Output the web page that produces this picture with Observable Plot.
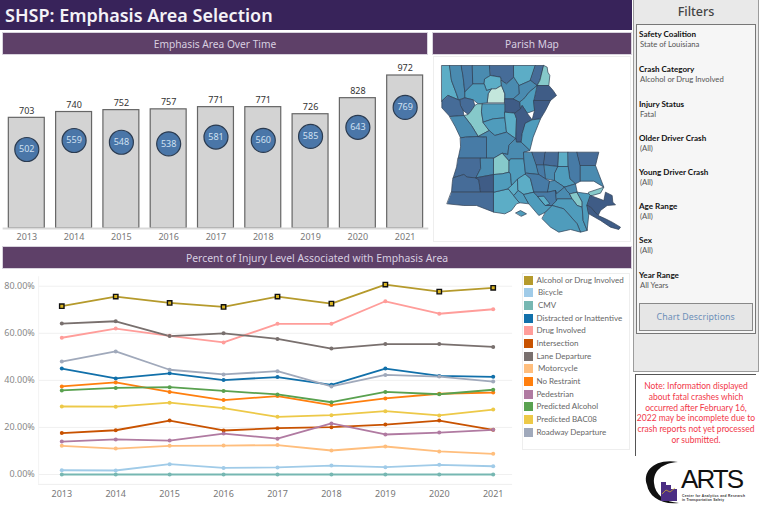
<!DOCTYPE html>
<html><head><meta charset="utf-8">
<script src="https://cdn.jsdelivr.net/npm/d3@7"></script>
<script src="https://cdn.jsdelivr.net/npm/@observablehq/plot@0.6"></script>
<style>
html,body{margin:0;padding:0;background:#fff}
#page{position:relative;width:759px;height:506px;overflow:hidden;font-family:"Noto Sans",sans-serif;background:#fff}
#page>*{position:absolute;box-sizing:border-box}
.bar{background:#5e4068;color:#d8cfe0;font-size:10.2px;display:flex;align-items:center;justify-content:center;border:1px solid #d8d3dd}
.flabel{font-family:Lato,sans-serif;font-weight:700;font-size:8.1px;color:#111;left:639px;line-height:11px;white-space:nowrap}
.fval{font-family:Lato,sans-serif;font-size:7.7px;color:#555;left:640px;line-height:11px;white-space:nowrap}
.lg{left:536.5px;font-family:Lato,sans-serif;font-size:8px;color:#666;line-height:11px;white-space:nowrap}
.sw{left:524px;width:9px;height:9px}
svg{overflow:visible}
</style></head><body><div id="page"></div>
<script>
// ---- Bar chart data
const years = [2013,2014,2015,2016,2017,2018,2019,2020,2021];
const totalCrashes = [703,740,752,757,771,771,726,828,972];
const emphasisCrashes = [502,559,548,538,581,560,585,643,769];

// ---- Line chart data (percent)
const alcoholOrDrug = [71.5,75.6,72.9,71.2,75.6,72.6,80.7,77.7,79.3];
const bicycle = [1.8,1.7,4.4,2.8,3.0,3.8,3.1,4.1,3.5];
const cmv = [0,0,0,0,0,0,0,0,0];
const distracted = [45.0,40.8,43.0,40.1,41.4,38.1,45.0,41.9,41.5];
const drugInvolved = [58.1,62.0,58.9,56.1,64.0,64.0,73.6,68.3,70.2];
const intersection = [17.6,18.8,22.9,18.7,19.7,20.1,21.2,22.9,19.0];
const laneDeparture = [64.1,65.1,58.8,60.0,57.6,53.5,55.4,55.4,54.2];
const motorcycle = [12.2,11.0,12.2,12.3,12.5,10.2,11.9,9.8,8.8];
const noRestraint = [37.4,39.1,35.1,31.6,33.3,29.5,32.3,34.3,34.8];
const pedestrian = [14.0,14.9,14.4,17.4,15.2,21.7,17.0,17.8,19.0];
const predictedAlcohol = [35.7,36.8,37.1,35.5,34.0,30.7,35.1,34.1,36.0];
const predictedBac08 = [28.9,28.8,30.5,28.2,24.5,25.2,26.9,25.1,27.6];
const roadwayDeparture = [48.0,52.3,44.5,42.5,43.9,37.4,42.3,41.6,39.5];

const seriesNames = ["Alcohol or Drug Involved"," Bicycle"," CMV","Distracted or Inattentive","Drug Involved","Intersection","Lane Departure"," Motorcycle","No Restraint","Pedestrian","Predicted Alcohol","Predicted BAC08","Roadway Departure"];
const seriesValues = [alcoholOrDrug,bicycle,cmv,distracted,drugInvolved,intersection,laneDeparture,motorcycle,noRestraint,pedestrian,predictedAlcohol,predictedBac08,roadwayDeparture];
const seriesColors = ["#b59a2c","#a0cbe8","#76b7b2","#1170aa","#ff9d9a","#c85200","#79706e","#ffbe7d","#ff7f0e","#b07aa1","#59a14f","#edc948","#a0a9bb"];
const percentTicks = [0,20,40,60,80];

// ---- Filters
const filterLabels = ["Safety Coalition","Crash Category","Injury Status","Older Driver Crash","Young Driver Crash","Age Range","Sex","Year Range"];
const filterValues = ["State of Louisiana","Alcohol or Drug Involved","Fatal","(All)","(All)","(All)","(All)","All Years"];
const noteLines = ["Note: Information displayed","about fatal crashes which","occurred after February 16,","2022 may be incomplete due to","crash reports not yet processed","or submitted."];

// ---- Parish map: outline traced on a planar grid, shade class 1 (few) to 8 (many)
const parishShadePalette = ["#c3e6dc","#86c9ca","#5cadc6","#4f9cbc","#4a8bb0","#477ba6","#466c98","#3f5c86"];
const parishes = [
 ["Caddo",3,[[34,105],[58,105],[63,150],[78,190],[84,208],[53,195],[34,212]]],
 ["Bossier",5,[[58,105],[93,105],[98,140],[103,185],[103,202],[84,208],[78,190],[63,150]]],
 ["Webster",6,[[93,105],[126,105],[128,160],[103,185],[98,140]]],
 ["Claiborne",5,[[126,105],[178,105],[180,135],[163,145],[161,160],[128,160]]],
 ["Union",7,[[178,105],[250,105],[250,140],[228,160],[213,150],[210,140],[180,135]]],
 ["Lincoln",3,[[163,145],[180,135],[210,140],[213,165],[196,175],[168,180],[161,160]]],
 ["Jackson",1,[[183,175],[196,175],[213,165],[223,190],[223,217],[170,217],[173,190]]],
 ["Bienville",4,[[128,160],[161,160],[168,180],[183,175],[173,190],[170,217],[143,220],[128,208],[103,202],[103,185]]],
 ["Ouachita",5,[[213,150],[228,160],[250,140],[266,165],[266,190],[248,205],[223,205],[223,190],[213,165]]],
 ["Caldwell",8,[[223,205],[248,205],[268,215],[270,235],[253,248],[223,245]]],
 ["Red River",7,[[88,208],[103,202],[128,208],[133,225],[123,240],[113,252],[98,240],[90,225]]],
 ["De Soto",7,[[53,195],[84,208],[88,208],[90,225],[98,240],[100,255],[58,258],[34,232],[34,212]]],
 ["Natchitoches",2,[[143,220],[156,220],[153,245],[158,275],[176,300],[143,318],[123,285],[100,255],[113,252],[123,240],[133,225]]],
 ["Winn",4,[[156,220],[223,220],[223,262],[188,265],[158,275],[153,245]]],
 ["Grant",4,[[158,275],[188,265],[223,262],[228,305],[193,315],[176,300]]],
 ["LaSalle",3,[[223,245],[253,248],[258,265],[256,325],[228,305],[223,262]]],
 ["Sabine",5,[[58,258],[100,255],[123,285],[143,318],[105,320],[90,322],[75,290]]],
 ["Vernon",6,[[90,322],[105,320],[143,318],[168,320],[168,383],[83,383],[90,350]]],
 ["Morehouse",3,[[250,105],[315,105],[300,150],[266,165],[250,140]]],
 ["West Carroll",7,[[315,105],[340,105],[328,150],[320,165],[300,150]]],
 ["East Carroll",2,[[340,105],[350,110],[352,125],[358,135],[355,165],[320,165],[328,150]]],
 ["Richland",5,[[266,165],[300,150],[320,165],[296,185],[280,205],[268,215],[248,205],[266,190]]],
 ["Madison",8,[[320,165],[355,165],[368,180],[378,195],[360,210],[310,210]]],
 ["Franklin",4,[[280,205],[296,185],[320,165],[310,210],[312,240],[290,248],[275,225],[270,235],[268,215]]],
 ["Tensas",8,[[310,210],[360,210],[345,240],[330,265],[305,268],[312,240]]],
 ["Catahoula",8,[[253,248],[270,235],[275,225],[290,248],[305,268],[285,278],[275,310],[272,335],[258,335],[256,325],[258,265]]],
 ["Concordia",4,[[285,278],[305,268],[330,265],[322,285],[308,320],[298,360],[272,335],[275,310]]],
 ["Rapides",5,[[143,318],[176,300],[193,315],[228,305],[256,325],[235,345],[232,372],[215,368],[190,383],[168,383],[168,320]]],
 ["Avoyelles",5,[[256,325],[258,335],[272,335],[298,360],[280,365],[280,385],[240,385],[236,392],[215,368],[232,372],[235,345]]],
 ["Beauregard",7,[[83,383],[150,383],[150,415],[136,442],[110,440],[100,432],[68,442],[78,410]]],
 ["Allen",5,[[150,383],[190,383],[190,432],[136,442],[150,415]]],
 ["Evangeline",2,[[190,383],[215,368],[236,392],[236,425],[215,430],[190,432]]],
 ["Calcasieu",7,[[68,442],[100,432],[110,440],[136,442],[145,448],[150,485],[63,485],[65,460]]],
 ["Jefferson Davis",8,[[136,442],[190,432],[190,485],[150,485],[145,448]]],
 ["Cameron",7,[[63,485],[190,485],[190,545],[138,525],[100,525],[50,520]]],
 ["Vermilion",3,[[190,485],[233,475],[250,495],[268,517],[258,520],[243,540],[223,550],[190,545]]],
 ["Acadia",4,[[190,432],[215,430],[236,425],[240,430],[243,465],[233,475],[190,485]]],
 ["St. Landry",4,[[236,392],[240,385],[280,385],[285,430],[262,445],[243,465],[240,430],[236,425]]],
 ["Lafayette",3,[[243,465],[262,445],[263,480],[250,495],[233,475]]],
 ["St. Martin",3,[[262,445],[285,430],[300,445],[310,485],[280,492],[263,480]]],
 ["Iberia",4,[[250,495],[263,480],[280,492],[295,520],[268,517]]],
 ["St. Mary",4,[[280,492],[310,485],[322,498],[345,525],[365,525],[345,545],[325,555],[295,520]]],
 ["Pointe Coupee",5,[[280,365],[305,365],[318,403],[325,432],[288,428],[285,430],[280,385]]],
 ["West Feliciana",7,[[305,365],[345,365],[340,403],[318,403]]],
 ["East Feliciana",7,[[345,365],[385,365],[383,408],[340,403]]],
 ["St. Helena",3,[[385,365],[413,365],[413,408],[383,408]]],
 ["Tangipahoa",6,[[413,365],[440,365],[450,405],[450,452],[435,460],[418,445],[413,408]]],
 ["Washington",7,[[440,365],[505,365],[495,405],[450,405]]],
 ["St. Tammany",5,[[450,405],[495,405],[520,470],[490,452],[450,452]]],
 ["East Baton Rouge",5,[[340,403],[383,408],[372,430],[372,450],[345,445]]],
 ["Livingston",4,[[383,408],[413,408],[418,445],[435,460],[402,470],[372,450],[372,430]]],
 ["West Baton Rouge",6,[[318,403],[340,403],[345,445],[325,432]]],
 ["Iberville",6,[[285,430],[288,428],[325,432],[345,445],[358,452],[352,485],[310,485],[300,445]]],
 ["St. James",5,[[358,452],[372,450],[402,470],[378,490],[375,480],[352,485]]],
 ["Assumption",6,[[310,485],[352,485],[375,480],[378,510],[365,525],[345,525],[322,498]]],
 ["Assumption South",3,[[322,498],[340,497],[358,520],[345,525]]],
 ["St. John",5,[[402,470],[435,460],[440,485],[418,490],[408,480]]],
 ["St. Charles",5,[[375,480],[378,490],[402,470],[408,480],[418,490],[425,505],[380,505],[378,510]]],
 ["Jefferson",2,[[418,490],[440,485],[455,515],[455,530],[440,525],[425,505]]],
 ["Lafourche",4,[[378,510],[380,505],[425,505],[440,525],[455,530],[458,570],[470,600],[450,605],[440,580],[400,535],[365,525]]],
 ["Terrebonne",4,[[345,545],[365,525],[400,535],[440,580],[450,605],[420,597],[385,605],[360,590],[335,565]]],
 ["Lower Jefferson",4,[[440,485],[475,490],[480,495],[470,525],[475,550],[470,600],[458,570],[455,530],[455,515]]],
 ["Orleans",2,[[475,485],[520,470],[510,488],[485,495],[480,495],[475,490]]],
 ["St. Bernard",8,[[480,495],[520,510],[525,485],[545,495],[547,515],[555,523],[530,525],[510,540],[503,555],[480,530],[470,525]]],
 ["Plaquemines",8,[[470,525],[480,530],[503,555],[525,565],[545,575],[570,590],[565,597],[540,590],[510,570],[475,550]]],
 ["Marsh Island",4,[[256,547],[270,540],[288,550],[273,557]]]
];

const page = document.getElementById("page");
function el(tag, cls, css, txt){
  const e=document.createElement(tag);
  if(cls) e.className=cls;
  e.style.cssText=css;
  if(txt!=null) e.textContent=txt;
  page.appendChild(e); return e;
}
function place(svg,left,top){
  svg.style.position="absolute";svg.style.left=left+"px";svg.style.top=top+"px";
  svg.style.background="transparent";
  page.appendChild(svg);
}

// Header
el("div","",'left:0;top:0;width:632px;height:30px;background:#38235a;color:#f4f2f7;font-size:18px;font-weight:600;line-height:30px;padding-left:5px;white-space:nowrap',"SHSP: Emphasis Area Selection");
el("div","bar","left:2px;top:32px;width:426px;height:23px","Emphasis Area Over Time");
el("div","bar","left:432px;top:32px;width:200px;height:23px","Parish Map");
el("div","bar","left:2px;top:246px;width:630px;height:23px;font-size:10.4px","Percent of Injury Level Associated with Emphasis Area");

// Bars
const barRows = years.map((y,i)=>({year:y,total:totalCrashes[i],emphasis:emphasisCrashes[i]}));
place(Plot.plot({
  width:430,height:190,marginTop:20,marginBottom:17,marginLeft:2.65,marginRight:1.7,
  style:{fontFamily:'"Noto Sans",sans-serif',fontSize:"9px"},
  x:{type:"band",domain:years,paddingInner:.24,paddingOuter:.12,round:false,label:null},
  y:{domain:[0,972],axis:null},
  marks:[
    Plot.axisX({tickSize:0,tickPadding:5,label:null,tickFormat:d3.format("d"),color:"#777",fontSize:9}),
    Plot.barY(barRows,{x:"year",y:"total",fill:"#d3d3d3",stroke:"#666",strokeWidth:1.2}),
    Plot.ruleY([0],{stroke:"#d9d9d9",strokeWidth:2}),
    Plot.text(barRows,{x:"year",y:"total",text:"total",dy:-7,fill:"#333",fontSize:9}),
    Plot.dot(barRows,{x:"year",y:"emphasis",r:12,fill:"#4a76a8",stroke:"#2b3b50",strokeWidth:1.2}),
    Plot.text(barRows,{x:"year",y:"emphasis",text:"emphasis",fill:"#cfe0f2",fontSize:9})
  ]
}),0,55);

// Map
el("div","","left:433px;top:56px;width:198px;height:186px;border:1px solid #eee");
const parishCollection = {type:"FeatureCollection",features:parishes.map(([name,shade,ring])=>({type:"Feature",properties:{name,shade},geometry:{type:"Polygon",coordinates:[[...ring,ring[0]]]}}))};
place(Plot.plot({
  width:205,height:215,margin:0,
  projection:d3.geoIdentity().scale(1/3),
  color:{type:"ordinal",domain:[1,2,3,4,5,6,7,8],range:parishShadePalette},
  marks:[Plot.geo(parishCollection,{fill:d=>d.properties.shade,stroke:"#2e3f55",strokeWidth:.7})]
}),430,30);

// Lines
const lineRows = seriesNames.flatMap((name,s)=>years.map((year,i)=>({name,year,value:seriesValues[s][i]})));
const otherRows = lineRows.filter(d=>d.name!==seriesNames[0]);
const firstRows = lineRows.filter(d=>d.name===seriesNames[0]);
place(Plot.plot({
  width:520,height:237,marginTop:16.7,marginBottom:32,marginLeft:61.3,marginRight:27.3,
  style:{fontFamily:'"Noto Sans",sans-serif',fontSize:"9px"},
  x:{domain:[2013,2021],label:null},
  y:{domain:[0,80],label:null},
  color:{type:"ordinal",domain:seriesNames,range:seriesColors},
  marks:[
    Plot.ruleY(percentTicks,{x1:2012.57,x2:2021.36,stroke:"#f0f0f0",strokeWidth:1}),
    Plot.ruleY([-4.2],{x1:2012.57,x2:2021.36,stroke:"#eee"}),
    Plot.ruleX([2012.57],{y1:-4.2,y2:84,stroke:"#f3f3f3"}),
    Plot.axisY({ticks:percentTicks,tickSize:0,tickPadding:27,label:null,tickFormat:d=>d.toFixed(2)+"%",color:"#888",fontSize:9}),
    Plot.axisX({ticks:years,tickSize:0,tickPadding:16,label:null,tickFormat:d3.format("d"),color:"#777",fontSize:9}),
    Plot.line(lineRows,{x:"year",y:"value",stroke:"name",z:"name",strokeWidth:1.8}),
    Plot.dot(otherRows,{x:"year",y:"value",fill:"name",r:2}),
    Plot.dot(firstRows,{x:"year",y:"value",symbol:"square",r:2.5,fill:"#d9b422",stroke:"#111",strokeWidth:1.4})
  ]
}),0,269);

// Legend
el("div","","left:521.5px;top:273px;width:108.5px;height:177px;border:1px solid #eee");
seriesNames.forEach((name,i)=>{
  const cy=280.3+i*12.65;
  el("div","sw",`top:${cy-4.5}px;background:${seriesColors[i]}`);
  const t=name.trim();
  el("div","lg",`top:${cy-5.5}px;margin-left:${name!==t?1.5:0}px`,t);
});

// Filters
el("div","","left:632.5px;top:0;width:126px;height:372px;background:#e9e9e9;border:1px solid #9c9c9c;border-top:0");
el("div","","left:633px;top:3px;width:126px;text-align:center;font-size:12.5px;font-weight:500;color:#444;line-height:18px","Filters");
el("div","","left:635.5px;top:24px;width:120.5px;height:310px;background:#f6f6f6;border:1px solid #777");
const filterY=[34,69,104,138,172,206,240,275];
filterLabels.forEach((lab,i)=>{
  el("div","flabel",`top:${filterY[i]-5.5}px`,lab);
  el("div","fval",`top:${filterY[i]+4.5}px`,filterValues[i]);
});
el("div","","left:638.5px;top:302.5px;width:114.5px;height:28.5px;background:#e6e6e6;border:1px solid #888;color:#6d8fb8;font-size:8.8px;display:flex;align-items:center;justify-content:center;letter-spacing:.1px","Chart Descriptions");

// Note
el("div","","left:635px;top:374px;width:121px;height:82px;background:#fff;border-left:1px solid #555;border-top:1px solid #555");
noteLines.forEach((ln,i)=>el("div","",`left:635px;width:122px;text-align:center;font-family:Lato,sans-serif;top:${381+i*10.75}px;line-height:11px;font-size:8.5px;color:#f2384a;white-space:nowrap`,ln));

// Logo
const logo=document.createElementNS("http://www.w3.org/2000/svg","svg");
logo.setAttribute("width","110");logo.setAttribute("height","48");
logo.style.cssText="position:absolute;left:640px;top:458px;overflow:visible";
logo.innerHTML=`<path d="M38 4 C14 0 2 14 7 27 C9 38 20 47 39 45 C25 44 15 37 14 25 C13 13 22 5 38 4Z" fill="#111"/>
<rect x="21" y="24" width="5" height="19" fill="#4b2e83"/><rect x="26" y="27" width="5" height="16" fill="#4b2e83"/><rect x="31" y="31" width="6" height="12" fill="#4b2e83"/>
<polyline points="22,36 26,32 30,34 35,30" fill="none" stroke="#d9b422" stroke-width=".7"/>
<text x="41" y="30" font-family="Liberation Sans" font-size="26" fill="#111" textLength="63">ARTS</text>
<text x="42" y="38.5" font-family="Liberation Sans" font-size="3.3" font-weight="700" fill="#333" textLength="63">Center for Analytics and Research</text>
<text x="42" y="43" font-family="Liberation Sans" font-size="3.3" font-weight="700" fill="#333" textLength="42">in Transportation Safety</text>`;
page.appendChild(logo);
</script></body></html>
